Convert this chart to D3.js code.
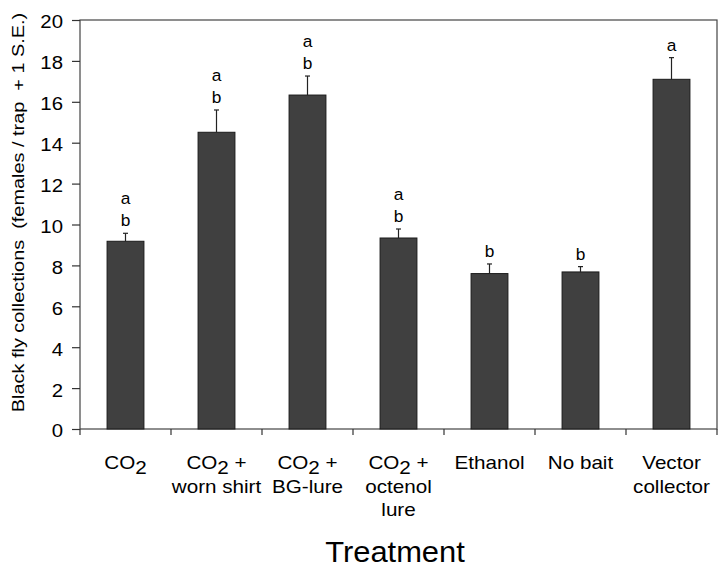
<!DOCTYPE html>
<html><head><meta charset="utf-8">
<script src="https://cdn.jsdelivr.net/npm/d3@7"></script>
<style>body{margin:0;background:#fff}svg{display:block}text{font-family:"Liberation Sans",Arial,sans-serif;fill:#000}</style>
</head><body><svg id="c" width="725" height="570"></svg>
<script>
const categories = ["CO2","CO2 + worn shirt","CO2 + BG-lure","CO2 + octenol lure","Ethanol","No bait","Vector collector"];
const labelLines = [[["CO",true]],[["CO",true,"+"],["worn shirt"]],[["CO",true,"+"],["BG-lure"]],[["CO",true,"+"],["octenol"],["lure"]],[["Ethanol"]],[["No bait"]],[["Vector"],["collector"]]];
const means = [9.18, 14.51, 16.33, 9.34, 7.6, 7.68, 17.1];
const se = [0.39, 1.09, 0.93, 0.44, 0.47, 0.26, 1.06];
const letters = [["a","b"],["a","b"],["a","b"],["a","b"],["b"],["b"],["a"]];
const yTicks = [0,2,4,6,8,10,12,14,16,18,20];

const svg = d3.select("#c");
const L=80, R=717, T=20, B=429;
const x = d3.scaleBand().domain(categories).range([L,R]).paddingInner(0).paddingOuter(0);
const y = d3.scaleLinear().domain([0,20]).range([B,T]);
const bw = x.bandwidth()*0.405;

// frame
svg.append("rect").attr("x",L).attr("y",T).attr("width",R-L).attr("height",B-T).attr("fill","none").attr("stroke","#444").attr("stroke-width",1.2);

// y axis
const ya = svg.append("g").attr("transform",`translate(${L},0)`).call(d3.axisLeft(y).tickValues(yTicks).tickSize(8));
ya.selectAll("path,line").attr("stroke","#333").attr("stroke-width",1.2);
ya.selectAll("text").attr("font-size",18.5).attr("x",0).attr("dy","0.32em")
  .attr("transform","translate(-17,2) scale(1.1,1)")
  .style("font-family","Liberation Sans, Arial, sans-serif");
ya.select(".domain").remove();

// x ticks at category boundaries
const bounds = categories.map(c=>x(c)).concat([R]);
svg.selectAll("line.xt").data(bounds).enter().append("line").attr("class","xt")
  .attr("x1",d=>d).attr("x2",d=>d).attr("y1",B).attr("y2",B+6).attr("stroke","#333").attr("stroke-width",1.2);

// bars
svg.selectAll("rect.bar").data(categories).enter().append("rect").attr("class","bar")
  .attr("x",(c)=>x(c)+x.bandwidth()/2-bw/2).attr("width",bw)
  .attr("y",(c,i)=>y(means[i])).attr("height",(c,i)=>y(0)-y(means[i]))
  .attr("fill","#404040").attr("stroke","#1a1a1a").attr("stroke-width",1);

// error bars
categories.forEach((c,i)=>{
  const cx = x(c)+x.bandwidth()/2;
  svg.append("line").attr("x1",cx).attr("x2",cx).attr("y1",y(means[i])).attr("y2",y(means[i]+se[i])).attr("stroke","#222").attr("stroke-width",1.2);
  svg.append("line").attr("x1",cx-2.5).attr("x2",cx+2.5).attr("y1",y(means[i]+se[i])).attr("y2",y(means[i]+se[i])).attr("stroke","#222").attr("stroke-width",1.2);
  const ls = letters[i];
  ls.forEach((l,j)=>{
    const off = (ls.length-1-j)*22.5;
    svg.append("text").attr("text-anchor","middle").attr("font-size",16.5)
      .attr("transform",`translate(${cx},${y(means[i]+se[i])-6.8-off}) scale(1.05,1)`).text(l);
  });
});

// category labels
categories.forEach((c,i)=>{
  const cx = x(c)+x.bandwidth()/2;
  labelLines[i].forEach((ln,j)=>{
    const t = svg.append("text").attr("text-anchor","middle").attr("font-size",17.5)
      .attr("transform",`translate(${cx},${469+j*23.5}) scale(1.18,1)`);
    if(ln[1]===true){
      t.append("tspan").text("CO");
      t.append("tspan").attr("dy",5).attr("font-size",17.5).text("2");
      if(ln[2]) t.append("tspan").attr("dy",-5).text(" "+ln[2]);
    } else t.text(ln[0]);
  });
});

// axis titles
svg.append("text").attr("text-anchor","middle").attr("font-size",30)
  .attr("transform","translate(395,561.5) scale(1.03,1)").text("Treatment");
svg.append("text").attr("transform",`translate(24,212.5) rotate(-90) scale(1.15,1)`).attr("text-anchor","middle").attr("font-size",17.3).style("white-space","pre").text("Black fly collections  (females / trap  + 1 S.E.)");
</script></body></html>
